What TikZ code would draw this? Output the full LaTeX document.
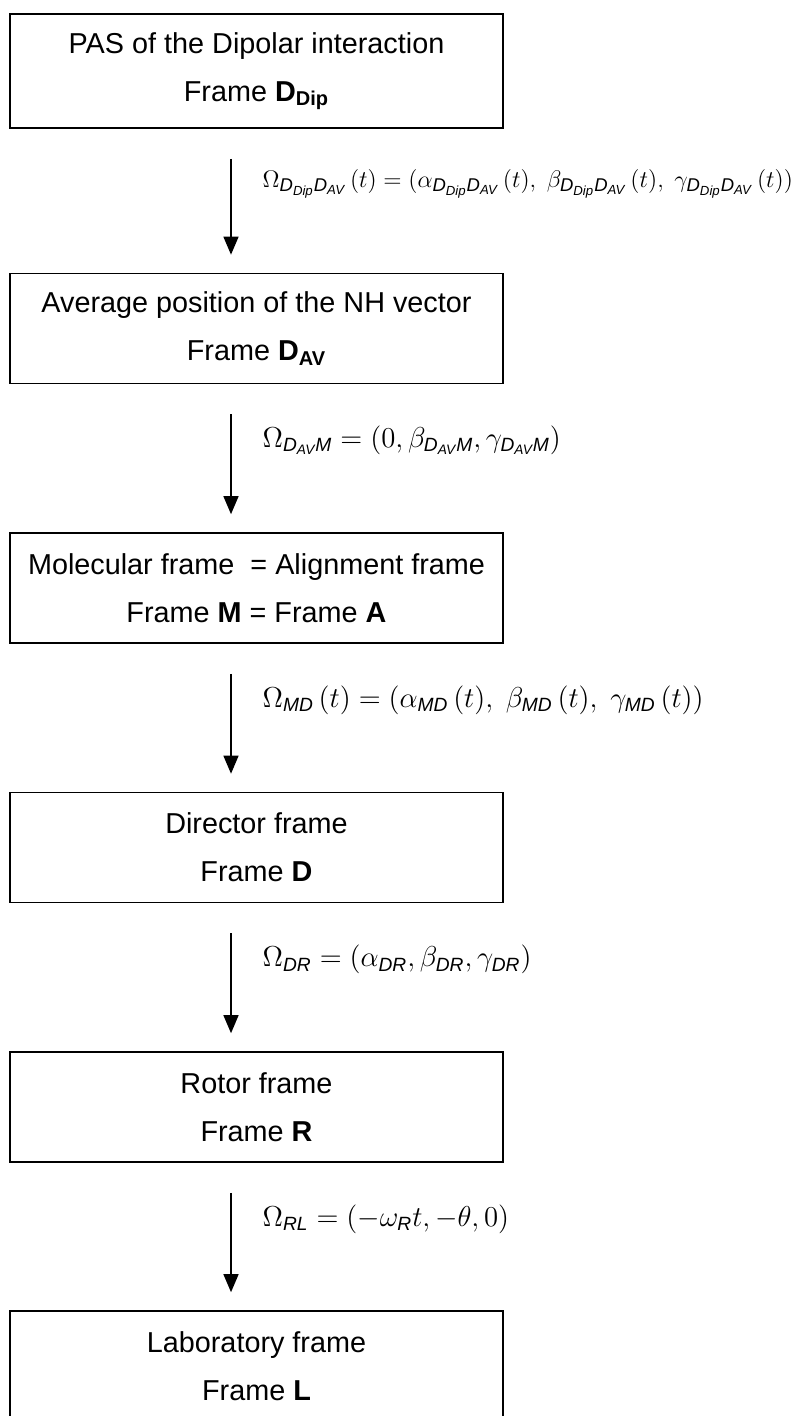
\documentclass[tikz,border=0pt]{standalone}
\usepackage{amsmath}
\usepackage{fontspec}
\setmainfont{Liberation Sans}
\usetikzlibrary{arrows.meta}
\newcommand{\ix}[1]{\text{\itshape #1}}

\begin{document}
\begin{tikzpicture}[
		frame/.style={draw, line width=0.8pt, minimum width=246.5pt, minimum height=55pt, align=center, font=\fontsize{14.4pt}{24pt}\selectfont},
		trans/.style={draw, line width=0.7pt, -{Triangle[length=9pt, width=7.5pt]}, shorten <=15pt, shorten >=9pt},
		omega/.style={anchor=west, inner sep=0pt, xshift=15.5pt, font=\fontsize{13.7pt}{16pt}\selectfont}
	]

	\useasboundingbox (0pt,0pt) rectangle (400.5pt,-708pt);

	\node[frame, minimum height=57pt] at (128.25pt, -35.5pt) (dip) {PAS of the Dipolar interaction\\Frame \textbf{D}\textsubscript{\textbf{Dip}}};
	\node[frame] at (128.25pt, -164.25pt) (av) {Average position of the NH vector\\Frame \textbf{D}\textsubscript{\textbf{AV}}};
	\node[frame] at (128.25pt, -294pt) (mol) {Molecular frame \ = Alignment frame\\Frame \textbf{M} = Frame \textbf{A}};
	\node[frame] at (128.25pt, -423.75pt) (dir) {Director frame\\Frame \textbf{D}};
	\node[frame] at (128.25pt, -553.5pt) (rot) {Rotor frame\\Frame \textbf{R}};
	\node[frame] at (128.25pt, -683pt) (lab) {Laboratory frame\\Frame \textbf{L}};

	\draw[trans] ([xshift=-12.75pt]dip.south) -- node[omega, pos=0.38, font=\fontsize{13.2pt}{15pt}\selectfont] {$\Omega_{\ix{D}_{\ix{Dip}}\ix{D}_{\ix{AV}}}\,(t)=(\alpha_{\ix{D}_{\ix{Dip}}\ix{D}_{\ix{AV}}}\,(t),\;\beta_{\ix{D}_{\ix{Dip}}\ix{D}_{\ix{AV}}}\,(t),\;\gamma_{\ix{D}_{\ix{Dip}}\ix{D}_{\ix{AV}}}\,(t))$} ([xshift=-12.75pt]av.north);
	\draw[trans] ([xshift=-12.75pt]av.south) -- node[omega, pos=0.38] {$\Omega_{\ix{D}_{\ix{AV}}\ix{M}}=(0,\beta_{\ix{D}_{\ix{AV}}\ix{M}},\gamma_{\ix{D}_{\ix{AV}}\ix{M}})$} ([xshift=-12.75pt]mol.north);
	\draw[trans] ([xshift=-12.75pt]mol.south) -- node[omega, pos=0.38] {$\Omega_{\ix{MD}}\,(t)=(\alpha_{\ix{MD}}\,(t),\;\beta_{\ix{MD}}\,(t),\;\gamma_{\ix{MD}}\,(t))$} ([xshift=-12.75pt]dir.north);
	\draw[trans] ([xshift=-12.75pt]dir.south) -- node[omega, pos=0.38] {$\Omega_{\ix{DR}}=(\alpha_{\ix{DR}},\beta_{\ix{DR}},\gamma_{\ix{DR}})$} ([xshift=-12.75pt]rot.north);
	\draw[trans] ([xshift=-12.75pt]rot.south) -- node[omega, pos=0.38] {$\Omega_{\ix{RL}}=(-\omega_{\ix{R}}t,-\theta,0)$} ([xshift=-12.75pt]lab.north);

\end{tikzpicture}
\end{document}
